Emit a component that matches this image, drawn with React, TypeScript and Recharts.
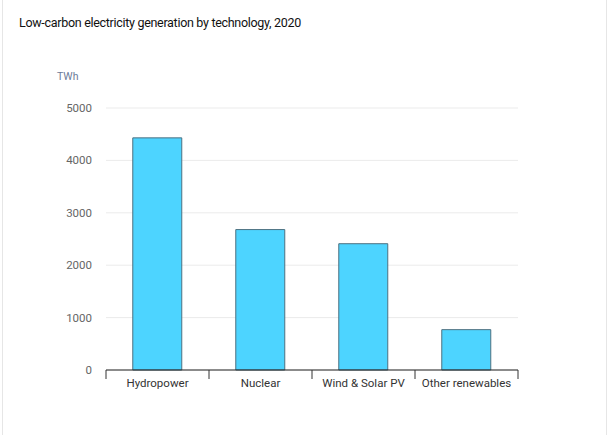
import React from "react";
import { BarChart, Bar, XAxis, YAxis, CartesianGrid } from "recharts";

const categories = ["Hydropower", "Nuclear", "Wind & Solar PV", "Other renewables"];
const generationTWh = [4430, 2680, 2410, 770];
const yTicks = [0, 1000, 2000, 3000, 4000, 5000];

const data = categories.map((name, i) => ({ name, value: generationTWh[i] }));

const W = 610;
const H = 435;
const margin = { top: 108, right: 92, left: 0, bottom: 35 };
const yAxisWidth = 106;
const plotWidth = W - margin.left - margin.right - yAxisWidth;
const band = plotWidth / categories.length;
const FONT = "Roboto, 'Noto Sans', sans-serif";

const XTick = (props: any) => {
  const { x, y, payload, index } = props;
  const left = x - band / 2;
  const right = x + band / 2;
  const isLast = index === categories.length - 1;
  return (
    <g>
      <line x1={left} x2={left} y1={y - 8} y2={y + 1} stroke="#333" strokeWidth={1} />
      {isLast && <line x1={right} x2={right} y1={y - 8} y2={y + 1} stroke="#333" strokeWidth={1} />}
      <text x={x} y={y + 9} textAnchor="middle" fontSize={11.5} fill="#333" fontFamily={FONT}>
        {payload.value}
      </text>
    </g>
  );
};

export default function App() {
  return (
    <div
      style={{
        position: "fixed",
        left: 0,
        top: 0,
        width: W,
        height: H,
        background: "#fff",
        fontFamily: FONT,
      }}
    >
      <div style={{ position: "absolute", left: 2, top: 0, width: 1, height: H, background: "#e6e6e6" }} />
      <div style={{ position: "absolute", left: 606, top: 0, width: 1, height: H, background: "#e6e6e6" }} />
      <div
        style={{
          position: "absolute",
          left: 19,
          top: 15,
          fontSize: 12.5,
          color: "#111",
          fontFamily: FONT,
          letterSpacing: -0.3,
        }}
      >
        Low-carbon electricity generation by technology, 2020
      </div>
      <div
        style={{
          position: "absolute",
          left: 57,
          top: 70,
          fontSize: 10.5,
          color: "#6b7a99",
          fontFamily: FONT,
        }}
      >
        TWh
      </div>
      <div style={{ position: "absolute", left: 0, top: 0 }}>
        <BarChart width={W} height={H} data={data} margin={margin} barCategoryGap="26%">
          <CartesianGrid vertical={false} stroke="#ebebeb" />
          <YAxis
            width={yAxisWidth}
            domain={[0, 5000]}
            ticks={yTicks}
            axisLine={false}
            tickLine={false}
            tickSize={0}
            tickMargin={14}
            tick={{ fontSize: 11.5, fill: "#666", fontFamily: FONT }}
            interval={0}
          />
          <XAxis
            dataKey="name"
            axisLine={{ stroke: "#222", strokeWidth: 1 }}
            tickLine={false}
            tick={<XTick />}
            height={30}
            interval={0}
          />
          <Bar dataKey="value" fill="#4dd4ff" stroke="#4d7080" strokeWidth={1} isAnimationActive={false} />
        </BarChart>
      </div>
    </div>
  );
}
